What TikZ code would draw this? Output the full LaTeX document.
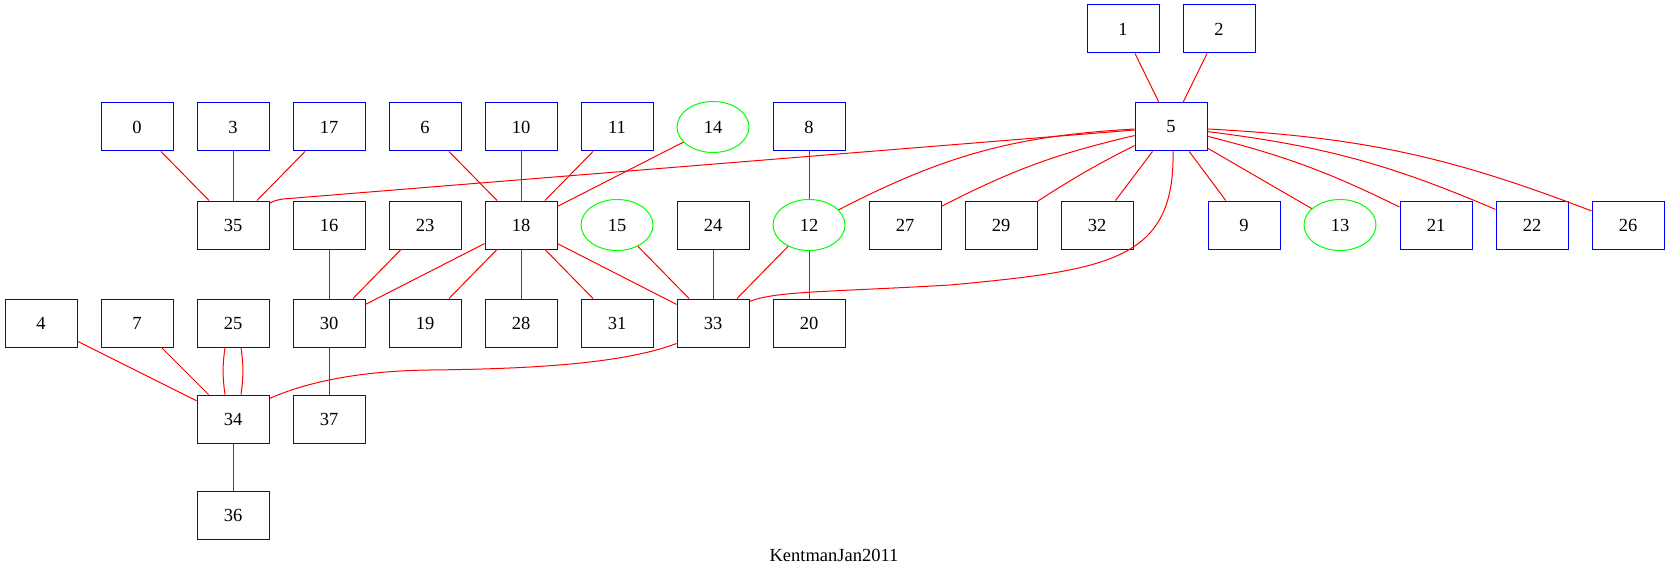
\documentclass[tikz,border=0pt]{standalone}
\usepackage{fontspec}
\setmainfont{Liberation Serif}
\usetikzlibrary{shapes.geometric}
\begin{document}
\begin{tikzpicture}[x=1pt,y=-1pt,
  every node/.style={font=\fontsize{18.5}{20}\selectfont},
  bx/.style={draw=blue,line width=1pt,minimum width=72pt,minimum height=48pt,inner sep=0pt},
  el/.style={ellipse,draw=green,line width=1pt,minimum width=72pt,minimum height=51pt,inner sep=0pt},
  edge/.style={draw=red,line width=1pt}]
\path[use as bounding box] (0,0) rectangle (1669,580);
% row 0
\node[bx] (n1) at (1123,29) {1};
\node[bx] (n2) at (1219,29) {2};
% row 1
\node[bx] (n0) at (137,127) {0};
\node[bx] (n3) at (233,127) {3};
\node[bx] (n17) at (329,127) {17};
\node[bx] (n6) at (425,127) {6};
\node[bx] (n10) at (521,127) {10};
\node[bx] (n11) at (617,127) {11};
\node[el] (n14) at (713,127) {14};
\node[bx] (n8) at (809,127) {8};
\node[bx] (n5) at (1171,127) {5};
% row 2
\node[bx] (n35) at (233,225) {35};
\node[bx] (n16) at (329,225) {16};
\node[bx] (n23) at (425,225) {23};
\node[bx] (n18) at (521,225) {18};
\node[el] (n15) at (617,225) {15};
\node[bx] (n24) at (713,225) {24};
\node[el] (n12) at (809,225) {12};
\node[bx] (n27) at (905,225) {27};
\node[bx] (n29) at (1001,225) {29};
\node[bx] (n32) at (1097,225) {32};
\node[bx] (n9) at (1244,225) {9};
\node[el] (n13) at (1340,225) {13};
\node[bx] (n21) at (1436,225) {21};
\node[bx] (n22) at (1532,225) {22};
\node[bx] (n26) at (1628,225) {26};
% row 3
\node[bx] (n4) at (41,323) {4};
\node[bx] (n7) at (137,323) {7};
\node[bx] (n25) at (233,323) {25};
\node[bx] (n30) at (329,323) {30};
\node[bx] (n19) at (425,323) {19};
\node[bx] (n28) at (521,323) {28};
\node[bx] (n31) at (617,323) {31};
\node[bx] (n33) at (713,323) {33};
\node[bx] (n20) at (809,323) {20};
% row 4
\node[bx] (n34) at (233,419) {34};
\node[bx] (n37) at (329,419) {37};
% row 5
\node[bx] (n36) at (233,515) {36};
% label
\node (lbl) at (834,555) {KentmanJan2011};
% straight edges
\foreach \a/\b in {n1/n5,n2/n5,n0/n35,n3/n35,n17/n35,n6/n18,n10/n18,n11/n18,n14/n18,
  n8/n12,n5/n32,n5/n9,n5/n13,n16/n30,n23/n30,n18/n30,n18/n19,n18/n28,n18/n31,n18/n33,
  n15/n33,n24/n33,n12/n33,n12/n20,n4/n34,n7/n34,n30/n37,n34/n36}
  \draw[edge] (\a) -- (\b);
% curved edges
\draw[edge] (n5) to[bend right=12] (n12);
\draw[edge] (n5) to[bend right=7] (n27);
\draw[edge] (n5) to[bend right=3] (n29);
\draw[edge] (n5) to[bend left=6] (n21);
\draw[edge] (n5) to[bend left=8] (n22);
\draw[edge] (n5) to[bend left=9] (n26);
\draw[edge] ([yshift=-3pt]n5.west) -- (283,199) .. controls (277,200) and (273,201) .. ([yshift=-3pt]n35.north east);
\draw[edge] ([xshift=2pt]n5.south) .. controls (1175,260) and (1110,270) .. (950,285)
  .. controls (830,292) and (775,291) .. ([yshift=-3pt]n33.north east);
\draw[edge] ([yshift=4pt]n33.south west) .. controls (620,365) and (520,369) .. (430,370)
  .. controls (350,371) and (300,385) .. ([yshift=-4pt]n34.north east);
\draw[edge] ([xshift=-8pt]n25.south) to[bend right=8] ([xshift=-8pt]n34.north);
\draw[edge] ([xshift=8pt]n25.south) to[bend left=8] ([xshift=8pt]n34.north);
\end{tikzpicture}
\end{document}
